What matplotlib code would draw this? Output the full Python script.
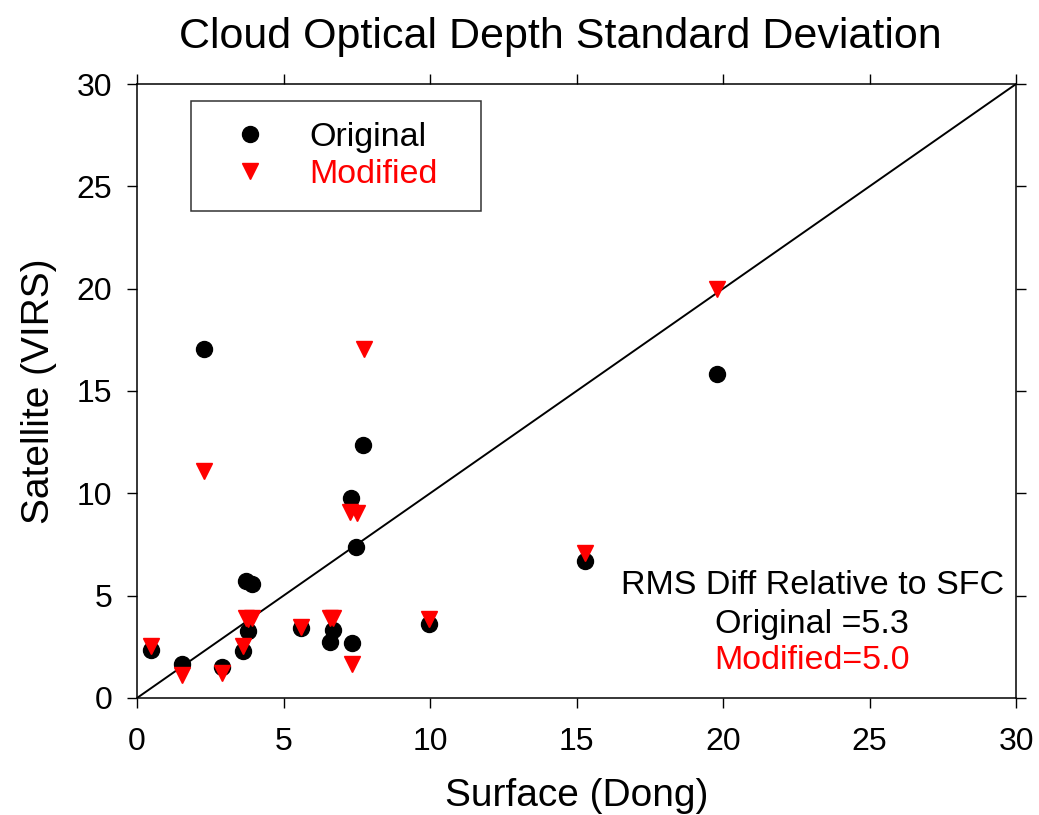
import matplotlib
matplotlib.use("Agg")
from matplotlib import pyplot as plt
from matplotlib.lines import Line2D

plt.rcParams['font.family'] = ['Liberation Sans', 'DejaVu Sans']

# surface (Dong) std dev and satellite (VIRS) values, original and modified
surface = [0.47, 1.53, 2.89, 3.63, 3.80, 3.72, 3.91, 5.59, 6.59, 6.70,
           7.33, 9.98, 2.29, 7.72, 7.29, 7.46, 19.80, 15.29]
sat_modified_x = [0.47, 1.53, 2.89, 3.63, 3.80, 3.72, 3.91, 5.59, 6.59, 6.70,
                  7.33, 9.98, 2.29, 7.74, 7.27, 7.50, 19.80, 15.29]
original = [2.34, 1.66, 1.53, 2.31, 3.29, 5.73, 5.57, 3.40, 2.75, 3.32,
            2.67, 3.61, 17.03, 12.34, 9.76, 7.36, 15.81, 6.71]
modified = [2.54, 1.12, 1.24, 2.56, 3.87, 3.93, 3.93, 3.48, 3.92, 3.92,
            1.66, 3.86, 11.10, 17.05, 9.10, 9.02, 19.97, 7.10]

rms_original = 5.3
rms_modified = 5.0

fig = plt.figure(figsize=(10.39, 8.15), dpi=100)
ax = fig.add_axes([0.1319, 0.1436, 0.846, 0.7533])

ax.plot([0, 30], [0, 30], color='black', lw=1.4, zorder=1)
ax.plot(surface, original, 'o', color='black', ms=11.5, zorder=2)
ax.plot(sat_modified_x, modified, 'v', color='red', mec='red', ms=11.5, zorder=3)

ax.set_xlim(0, 30)
ax.set_ylim(0, 30)
ax.set_xticks(range(0, 31, 5))
ax.set_yticks(range(0, 31, 5))
ax.tick_params(which='both', direction='out', length=7, width=1,
               labelsize=23, top=True, right=True)
ax.tick_params(axis='x', pad=14)
ax.tick_params(axis='y', pad=11)
for s in ax.spines.values():
    s.set_linewidth(1.1)

ax.set_title('Cloud Optical Depth Standard Deviation', fontsize=31, pad=26,
             x=0.481)
ax.set_xlabel('Surface (Dong)', fontsize=28, labelpad=15)
ax.set_ylabel('Satellite (VIRS)', fontsize=28, labelpad=14)

handles = [Line2D([], [], ls='none', marker='o', color='black', ms=11.5),
           Line2D([], [], ls='none', marker='v', color='red', ms=11.5)]
leg = ax.legend(handles, ['Original', 'Modified'], loc='upper left',
                bbox_to_anchor=(0.0614, 0.5, 0.33, 0.472), mode='expand',
                borderaxespad=0, fontsize=24.5, frameon=True, fancybox=False,
                edgecolor='black', labelcolor='markerfacecolor',
                handletextpad=0.65, labelspacing=0.17, borderpad=0.62,
                handlelength=2.2)
leg.get_frame().set_linewidth(1.1)

ax.text(23.04, 5.52, 'RMS Diff Relative to SFC', ha='center', va='center',
        fontsize=24.5, color='black')
ax.text(23.04, 3.57, f'Original ={rms_original:.1f}', ha='center', va='center',
        fontsize=24.5, color='black')
ax.text(23.04, 1.81, f'Modified={rms_modified:.1f}', ha='center', va='center',
        fontsize=24.5, color='red')

fig.savefig('out.png', dpi=100)
